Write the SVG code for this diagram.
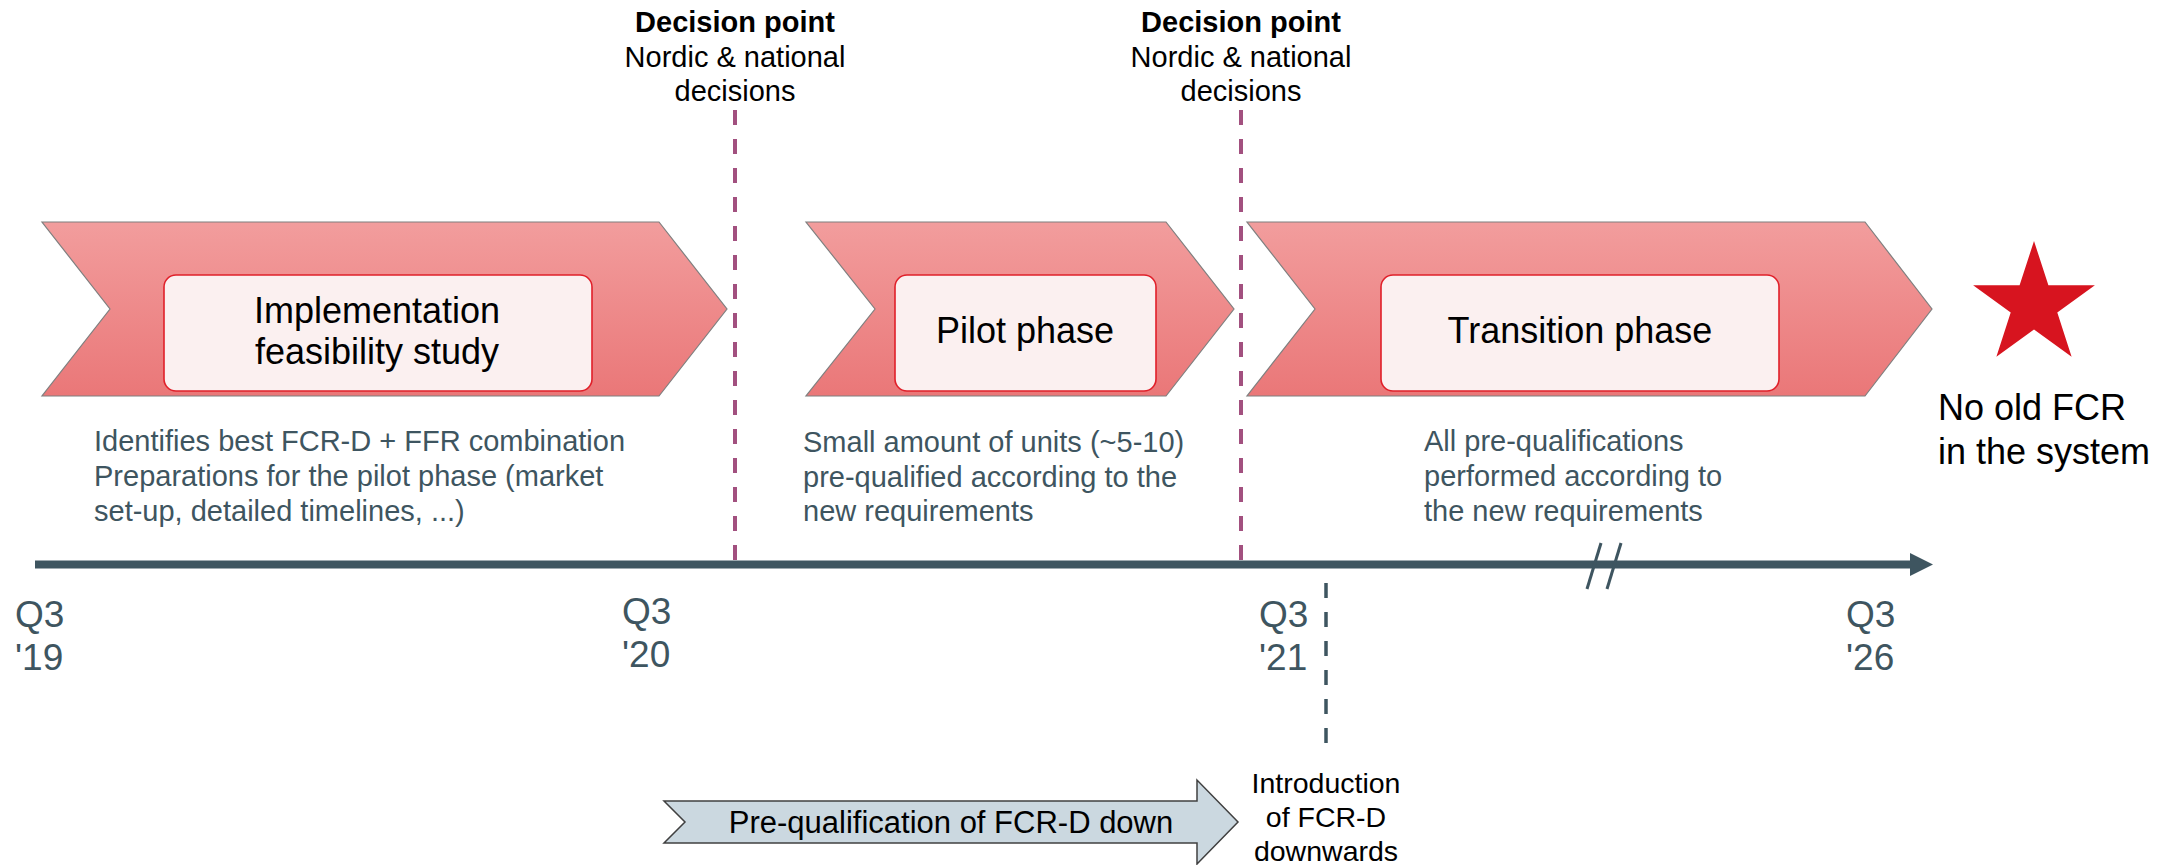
<svg xmlns="http://www.w3.org/2000/svg" width="2183" height="865" viewBox="0 0 2183 865">
<style>
text{font-family:"Liberation Sans",Arial,sans-serif}
.chev{fill:url(#g);stroke:#7f7f7f;stroke-width:1.2}
.box{fill:#FBF0F0;stroke:#E0202A;stroke-width:1.6}
.title{font-size:36px;fill:#000;text-anchor:middle}
.desc{font-size:29px;fill:#3E5560}
.q{font-size:37px;fill:#3E5560}
.dec{font-size:29px;fill:#000;text-anchor:middle}
.decb{font-weight:bold}
.dp{stroke:#A2507F;stroke-width:4;stroke-dasharray:15 14;fill:none}
</style>
<defs>
<linearGradient id="g" x1="0" y1="0" x2="0" y2="1">
<stop offset="0" stop-color="#F29D9D"/>
<stop offset="1" stop-color="#EA7778"/>
</linearGradient>
</defs>
<g id="connectors">
<line class="dp" x1="735" y1="110" x2="735" y2="562"/>
<line class="dp" x1="1241" y1="110" x2="1241" y2="562"/>
<line x1="1326" y1="583" x2="1326" y2="745" stroke="#3E5560" stroke-width="3.5" stroke-dasharray="15 14"/>
<line x1="35" y1="564.5" x2="1912" y2="564.5" stroke="#3E5560" stroke-width="8"/>
<polygon points="1910,553 1933,564.5 1910,576" fill="#3E5560"/>
<line x1="1601" y1="543" x2="1587" y2="589" stroke="#3E5560" stroke-width="3"/>
<line x1="1621" y1="543" x2="1607" y2="589" stroke="#3E5560" stroke-width="3"/>
</g>
<g id="phase1">
<polygon class="chev" points="42,222 659,222 727,309 659,396 42,396 110,309"/>
<rect class="box" x="164" y="275" width="428" height="116" rx="12"/>
<text class="title" x="377" y="323">Implementation</text>
<text class="title" x="377" y="364">feasibility study</text>
</g>
<g id="phase2">
<polygon class="chev" points="806,222 1166,222 1234,309 1166,396 806,396 875,309"/>
<rect class="box" x="895" y="275" width="261" height="116" rx="12"/>
<text class="title" x="1025" y="343">Pilot phase</text>
</g>
<g id="phase3">
<polygon class="chev" points="1247,222 1865,222 1932,309 1865,396 1247,396 1315,309"/>
<rect class="box" x="1381" y="275" width="398" height="116" rx="12"/>
<text class="title" x="1580" y="343">Transition phase</text>
</g>
<g id="desc1">
<text class="desc" x="94" y="451">Identifies best FCR-D + FFR combination</text>
<text class="desc" x="94" y="486">Preparations for the pilot phase (market</text>
<text class="desc" x="94" y="521">set-up, detailed timelines, ...)</text>
</g>
<g id="desc2">
<text class="desc" x="803" y="452">Small amount of units (~5-10)</text>
<text class="desc" x="803" y="487">pre-qualified according to the</text>
<text class="desc" x="803" y="521">new requirements</text>
</g>
<g id="desc3">
<text class="desc" x="1424" y="451">All pre-qualifications</text>
<text class="desc" x="1424" y="486">performed according to</text>
<text class="desc" x="1424" y="521">the new requirements</text>
</g>
<g id="decision1">
<text class="dec decb" x="735" y="32">Decision point</text>
<text class="dec" x="735" y="67">Nordic &amp; national</text>
<text class="dec" x="735" y="101">decisions</text>
</g>
<g id="decision2">
<text class="dec decb" x="1241" y="32">Decision point</text>
<text class="dec" x="1241" y="67">Nordic &amp; national</text>
<text class="dec" x="1241" y="101">decisions</text>
</g>
<g id="q19"><text class="q" x="15" y="627">Q3</text><text class="q" x="15" y="670">'19</text></g>
<g id="q20"><text class="q" x="622" y="624">Q3</text><text class="q" x="622" y="667">'20</text></g>
<g id="q21"><text class="q" x="1259" y="627">Q3</text><text class="q" x="1259" y="670">'21</text></g>
<g id="q26"><text class="q" x="1846" y="627">Q3</text><text class="q" x="1846" y="670">'26</text></g>
<g id="goal">
<polygon fill="#D7141F" points="2034,241 2048.4,285.2 2094.9,285.2 2057.3,312.5 2071.6,356.8 2034,329.5 1996.4,356.8 2010.7,312.5 1973.1,285.2 2019.6,285.2"/>
<text x="1938" y="420" font-size="36" fill="#000">No old FCR</text>
<text x="1938" y="464" font-size="36" fill="#000">in the system</text>
</g>
<g id="prequal">
<polygon points="664,801 1197,801 1197,780 1238,822 1197,864 1197,843 664,843 685,822" fill="#CBD8E0" stroke="#404040" stroke-width="1.5"/>
<text x="951" y="833" font-size="31" fill="#000" text-anchor="middle">Pre-qualification of FCR-D down</text>
</g>
<g id="intro">
<text x="1326" y="793" font-size="28.5" fill="#000" text-anchor="middle">Introduction</text>
<text x="1326" y="827" font-size="28.5" fill="#000" text-anchor="middle">of FCR-D</text>
<text x="1326" y="861" font-size="28.5" fill="#000" text-anchor="middle">downwards</text>
</g>
</svg>
